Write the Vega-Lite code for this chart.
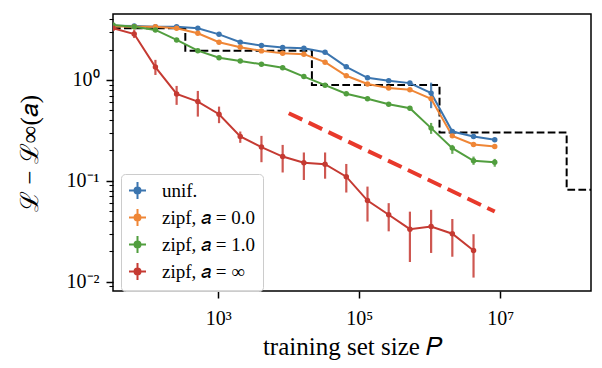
{
  "$schema": "https://vega.github.io/schema/vega-lite/v6.json",
  "width": 478,
  "height": 277,
  "autosize": {"type": "none"},
  "padding": {"left": 113, "top": 14, "right": 11, "bottom": 77},
  "background": "white",
  "config": {
    "view": {"stroke": "black", "strokeWidth": 1.5},
    "font": "Liberation Serif",
    "legend": {"labelFont": "Liberation Serif", "labelFontSize": 19}
  },
  "datasets": {
    "pts": [
      {"s": "unif.", "P": 32, "L": 3.45},
      {"s": "unif.", "P": 64, "L": 3.43},
      {"s": "unif.", "P": 128, "L": 3.37},
      {"s": "unif.", "P": 256, "L": 3.37},
      {"s": "unif.", "P": 512, "L": 3.25},
      {"s": "unif.", "P": 1024, "L": 2.83},
      {"s": "unif.", "P": 2048, "L": 2.36},
      {"s": "unif.", "P": 4096, "L": 2.19},
      {"s": "unif.", "P": 8192, "L": 2.09},
      {"s": "unif.", "P": 16384, "L": 2.06},
      {"s": "unif.", "P": 32768, "L": 1.88},
      {"s": "unif.", "P": 65536, "L": 1.35},
      {"s": "unif.", "P": 131072, "L": 1.05},
      {"s": "unif.", "P": 262144, "L": 0.98},
      {"s": "unif.", "P": 524288, "L": 0.93},
      {"s": "unif.", "P": 1048576, "L": 0.74, "lo": 0.525, "hi": 0.94},
      {"s": "unif.", "P": 2097152, "L": 0.308},
      {"s": "unif.", "P": 4194304, "L": 0.275},
      {"s": "unif.", "P": 8388608, "L": 0.255},
      {"s": "zipf, 𝑎 = 0.0", "P": 32, "L": 3.4},
      {"s": "zipf, 𝑎 = 0.0", "P": 64, "L": 3.37},
      {"s": "zipf, 𝑎 = 0.0", "P": 128, "L": 3.37},
      {"s": "zipf, 𝑎 = 0.0", "P": 256, "L": 3.25},
      {"s": "zipf, 𝑎 = 0.0", "P": 512, "L": 2.9},
      {"s": "zipf, 𝑎 = 0.0", "P": 1024, "L": 2.36},
      {"s": "zipf, 𝑎 = 0.0", "P": 2048, "L": 2.11},
      {"s": "zipf, 𝑎 = 0.0", "P": 4096, "L": 1.94},
      {"s": "zipf, 𝑎 = 0.0", "P": 8192, "L": 1.84},
      {"s": "zipf, 𝑎 = 0.0", "P": 16384, "L": 1.8},
      {"s": "zipf, 𝑎 = 0.0", "P": 32768, "L": 1.5},
      {"s": "zipf, 𝑎 = 0.0", "P": 65536, "L": 1.1},
      {"s": "zipf, 𝑎 = 0.0", "P": 131072, "L": 0.91},
      {"s": "zipf, 𝑎 = 0.0", "P": 262144, "L": 0.83},
      {"s": "zipf, 𝑎 = 0.0", "P": 524288, "L": 0.8},
      {"s": "zipf, 𝑎 = 0.0", "P": 1048576, "L": 0.65},
      {"s": "zipf, 𝑎 = 0.0", "P": 2097152, "L": 0.279},
      {"s": "zipf, 𝑎 = 0.0", "P": 4194304, "L": 0.229},
      {"s": "zipf, 𝑎 = 0.0", "P": 8388608, "L": 0.219},
      {"s": "zipf, 𝑎 = 1.0", "P": 32, "L": 3.5},
      {"s": "zipf, 𝑎 = 1.0", "P": 64, "L": 3.37},
      {"s": "zipf, 𝑎 = 1.0", "P": 128, "L": 3.13},
      {"s": "zipf, 𝑎 = 1.0", "P": 256, "L": 2.49},
      {"s": "zipf, 𝑎 = 1.0", "P": 512, "L": 1.95},
      {"s": "zipf, 𝑎 = 1.0", "P": 1024, "L": 1.66},
      {"s": "zipf, 𝑎 = 1.0", "P": 2048, "L": 1.54},
      {"s": "zipf, 𝑎 = 1.0", "P": 4096, "L": 1.43},
      {"s": "zipf, 𝑎 = 1.0", "P": 8192, "L": 1.32},
      {"s": "zipf, 𝑎 = 1.0", "P": 16384, "L": 1.08},
      {"s": "zipf, 𝑎 = 1.0", "P": 32768, "L": 0.887},
      {"s": "zipf, 𝑎 = 1.0", "P": 65536, "L": 0.73},
      {"s": "zipf, 𝑎 = 1.0", "P": 131072, "L": 0.65},
      {"s": "zipf, 𝑎 = 1.0", "P": 262144, "L": 0.574},
      {"s": "zipf, 𝑎 = 1.0", "P": 524288, "L": 0.525},
      {"s": "zipf, 𝑎 = 1.0", "P": 1048576, "L": 0.333, "lo": 0.292, "hi": 0.375},
      {"s": "zipf, 𝑎 = 1.0", "P": 2097152, "L": 0.211, "lo": 0.185, "hi": 0.227},
      {"s": "zipf, 𝑎 = 1.0", "P": 4194304, "L": 0.158, "lo": 0.144, "hi": 0.174},
      {"s": "zipf, 𝑎 = 1.0", "P": 8388608, "L": 0.153, "lo": 0.138, "hi": 0.165},
      {"s": "zipf, 𝑎 = ∞", "P": 32, "L": 3.25},
      {"s": "zipf, 𝑎 = ∞", "P": 64, "L": 2.85, "lo": 2.6, "hi": 3.12},
      {"s": "zipf, 𝑎 = ∞", "P": 128, "L": 1.34, "lo": 1.12, "hi": 1.58},
      {"s": "zipf, 𝑎 = ∞", "P": 256, "L": 0.727, "lo": 0.566, "hi": 0.872},
      {"s": "zipf, 𝑎 = ∞", "P": 512, "L": 0.61, "lo": 0.433, "hi": 0.778},
      {"s": "zipf, 𝑎 = ∞", "P": 1024, "L": 0.457, "lo": 0.373, "hi": 0.544},
      {"s": "zipf, 𝑎 = ∞", "P": 2048, "L": 0.275, "lo": 0.238, "hi": 0.308},
      {"s": "zipf, 𝑎 = ∞", "P": 4096, "L": 0.216, "lo": 0.153, "hi": 0.279},
      {"s": "zipf, 𝑎 = ∞", "P": 8192, "L": 0.174, "lo": 0.121, "hi": 0.227},
      {"s": "zipf, 𝑎 = ∞", "P": 16384, "L": 0.151, "lo": 0.102, "hi": 0.191},
      {"s": "zipf, 𝑎 = ∞", "P": 32768, "L": 0.146, "lo": 0.105, "hi": 0.191},
      {"s": "zipf, 𝑎 = ∞", "P": 65536, "L": 0.11, "lo": 0.0766, "hi": 0.147},
      {"s": "zipf, 𝑎 = ∞", "P": 131072, "L": 0.0638, "lo": 0.0395, "hi": 0.0877},
      {"s": "zipf, 𝑎 = ∞", "P": 262144, "L": 0.0461, "lo": 0.0316, "hi": 0.0601},
      {"s": "zipf, 𝑎 = ∞", "P": 524288, "L": 0.0332, "lo": 0.0157, "hi": 0.0495},
      {"s": "zipf, 𝑎 = ∞", "P": 1048576, "L": 0.0353, "lo": 0.0193, "hi": 0.0516},
      {"s": "zipf, 𝑎 = ∞", "P": 2097152, "L": 0.0299, "lo": 0.0177, "hi": 0.0419},
      {"s": "zipf, 𝑎 = ∞", "P": 4194304, "L": 0.0204, "lo": 0.011, "hi": 0.0296}
    ],
    "step": [
      {"P": 32, "L": 3.25},
      {"P": 340, "L": 1.95},
      {"P": 21300, "L": 0.892},
      {"P": 1380000, "L": 0.301},
      {"P": 88000000, "L": 0.0814},
      {"P": 195000000, "L": 0.0814}
    ],
    "fit": [
      {"P": 10000, "L": 0.468},
      {"P": 8388608, "L": 0.0497}
    ]
  },
  "encoding": {
    "x": {
      "field": "P", "type": "quantitative",
      "scale": {"type": "log", "domain": [32, 195000000], "nice": false},
      "axis": {
        "values": [1000, 100000, 10000000],
        "labelExpr": "datum.value == 1000 ? '10³' : datum.value == 100000 ? '10⁵' : '10⁷'",
        "title": "training set size 𝑃",
        "titleFont": "Liberation Serif", "titleFontSize": 25, "titleFontWeight": "normal", "titleColor": "black",
        "titleBaseline": "alphabetic", "titleY": 63,
        "labelFont": "Liberation Serif", "labelFontSize": 20, "labelColor": "black",
        "labelPadding": 10, "labelFlush": false,
        "tickSize": 7, "tickWidth": 1.5, "tickColor": "black",
        "domain": false, "grid": false
      }
    },
    "y": {
      "field": "L", "type": "quantitative",
      "scale": {"type": "log", "domain": [0.0081, 4.5], "nice": false},
      "axis": {
        "values": [0.009, 0.01, 0.02, 0.03, 0.04, 0.05, 0.06, 0.07, 0.08, 0.09, 0.1, 0.2, 0.3, 0.4, 0.5, 0.6, 0.7, 0.8, 0.9, 1, 2, 3, 4],
        "labelExpr": "datum.value == 1 ? '10⁰' : datum.value == 0.1 ? '10⁻¹' : datum.value == 0.01 ? '10⁻²' : ''",
        "title": "ℒ − ℒ∞(𝑎)",
        "titleFont": "Liberation Serif", "titleFontSize": 25, "titleFontWeight": "normal", "titleColor": "black",
        "titleX": -84, "titleY": 139, "titleAngle": -90, "titleAlign": "center", "titleBaseline": "middle",
        "labelFont": "Liberation Serif", "labelFontSize": 20, "labelColor": "black",
        "labelPadding": 7, "labelFlush": false, "labelOverlap": false,
        "tickSize": {"condition": {"test": "indexof([0.01, 0.1, 1], datum.value) >= 0", "value": 7}, "value": 4},
        "tickWidth": {"condition": {"test": "indexof([0.01, 0.1, 1], datum.value) >= 0", "value": 1.5}, "value": 1.1},
        "tickColor": "black",
        "domain": false, "grid": false
      }
    },
    "color": {
      "field": "s", "type": "nominal",
      "scale": {
        "domain": ["unif.", "zipf, 𝑎 = 0.0", "zipf, 𝑎 = 1.0", "zipf, 𝑎 = ∞"],
        "range": ["#3b75af", "#ef8636", "#519e3e", "#c53a32"]
      },
      "legend": {
        "title": null,
        "orient": "none", "legendX": 8, "legendY": 160,
        "direction": "vertical",
        "symbolType": "M-1,0H1M0,-1V1M-0.35,0A0.35,0.35,0,1,1,0.35,0A0.35,0.35,0,1,1,-0.35,0Z",
        "symbolSize": 289,
        "symbolStrokeWidth": 2,
        "symbolOpacity": 1,
        "labelFont": "Liberation Serif", "labelFontSize": 19, "labelColor": "black",
        "labelOffset": 15,
        "rowPadding": 2,
        "padding": 7,
        "fillColor": "rgba(255,255,255,0.8)",
        "strokeColor": "#cccccc",
        "cornerRadius": 4,
        "encode": {
          "labels": {
            "update": {
              "font": {"value": "Liberation Serif"},
              "fontSize": {"value": 19}
            }
          },
          "symbols": {
            "update": {
              "fill": {"scale": "color", "field": "value"},
              "stroke": {"scale": "color", "field": "value"},
              "strokeWidth": {"value": 2}
            }
          }
        }
      }
    }
  },
  "layer": [
    {
      "data": {"name": "step"},
      "mark": {"type": "line", "interpolate": "step-after", "color": "black", "strokeWidth": 2, "strokeDash": [7.7, 3.3], "clip": true},
      "encoding": {"color": {"value": "black"}}
    },
    {
      "data": {"name": "pts"},
      "transform": [{"filter": "isValid(datum.lo)"}],
      "mark": {"type": "rule", "strokeWidth": 2.2, "opacity": 0.85, "clip": true},
      "encoding": {
        "y": {"field": "lo", "type": "quantitative"},
        "y2": {"field": "hi"}
      }
    },
    {
      "data": {"name": "pts"},
      "mark": {"type": "line", "strokeWidth": 2, "clip": true}
    },
    {
      "data": {"name": "pts"},
      "mark": {"type": "point", "filled": true, "size": 30, "opacity": 1, "clip": true}
    },
    {
      "data": {"name": "fit"},
      "mark": {"type": "line", "strokeWidth": 4, "strokeDash": [15, 7], "clip": true},
      "encoding": {"color": {"value": "#e8392b"}}
    }
  ]
}
